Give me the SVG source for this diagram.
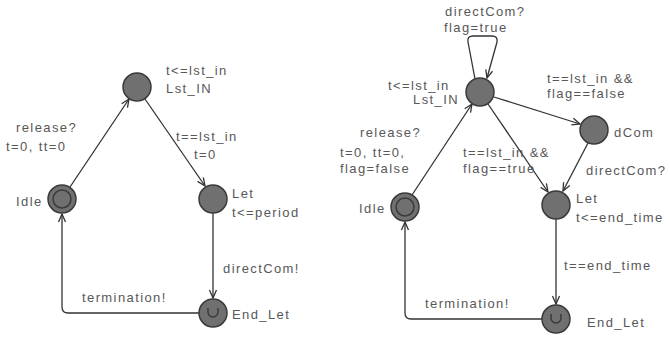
<svg xmlns="http://www.w3.org/2000/svg" width="670" height="337" viewBox="0 0 670 337">
<style>
.n{fill:#707070;stroke:#3a3a3a;stroke-width:1.5}
.in{fill:none;stroke:#3a3a3a;stroke-width:1.5}
.e{fill:none;stroke:#333;stroke-width:1.3}
.t{font-family:"Liberation Sans",Arial,sans-serif;font-size:13px;letter-spacing:1.4px;fill:#585858}
</style>
<defs>
<marker id="a" viewBox="0 0 10 10" refX="9" refY="5" markerWidth="10" markerHeight="10" markerUnits="userSpaceOnUse" orient="auto">
<path d="M1,1.5 L9,5 L1,8.5" fill="none" stroke="#333" stroke-width="1.3"/>
</marker>
</defs>
<rect width="670" height="337" fill="#fff"/>
<g id="connectors">
<path class="e" d="M70,187 L129,99" marker-end="url(#a)"/>
<path class="e" d="M145,99 L205,186" marker-end="url(#a)"/>
<path class="e" d="M213,213 L213,298" marker-end="url(#a)"/>
<path class="e" d="M199,313 L68,313 Q62,313 62,307 L62,214" marker-end="url(#a)"/>
<path class="e" d="M412,195 L472,104" marker-end="url(#a)"/>
<path class="e" d="M475,79 L468,42 Q467,36 473,36 L492,36 Q498,36 497,42 L487,78" marker-end="url(#a)"/>
<path class="e" d="M494,97 L580,124" marker-end="url(#a)"/>
<path class="e" d="M488,104 L548,192" marker-end="url(#a)"/>
<path class="e" d="M588,143 L563,191" marker-end="url(#a)"/>
<path class="e" d="M556,219 L556,304" marker-end="url(#a)"/>
<path class="e" d="M542,319 L411,319 Q405,319 405,313 L405,222" marker-end="url(#a)"/>
</g>
<g id="l-top"><circle class="n" cx="137" cy="87" r="14"/><text class="t" x="166" y="75">t&lt;=lst_in</text><text class="t" x="166" y="93">Lst_IN</text></g>
<g id="l-idle"><circle class="n" cx="62" cy="199" r="14"/><circle class="in" cx="62" cy="199" r="9"/><text class="t" x="16" y="206">Idle</text></g>
<g id="l-let"><circle class="n" cx="213" cy="199" r="14"/><text class="t" x="232" y="198">Let</text><text class="t" x="232" y="217">t&lt;=period</text></g>
<g id="l-endlet"><circle class="n" cx="213" cy="313" r="14"/><path class="in" d="M208,308 v4 a5,5 0 0 0 10,0 v-4"/><text class="t" x="232" y="319">End_Let</text></g>
<g id="l-labels">
<text class="t" x="16" y="132">release?</text><text class="t" x="6" y="151">t=0, tt=0</text>
<text class="t" x="176" y="141">t==lst_in</text><text class="t" x="194" y="159">t=0</text>
<text class="t" x="223" y="273">directCom!</text>
<text class="t" x="82" y="302">termination!</text>
</g>
<g id="r-top"><circle class="n" cx="480" cy="92" r="14"/><text class="t" x="388" y="90">t&lt;=lst_in</text><text class="t" x="413" y="104">Lst_IN</text></g>
<g id="r-dcom"><circle class="n" cx="594" cy="130" r="14"/><text class="t" x="614" y="137">dCom</text></g>
<g id="r-idle"><circle class="n" cx="405" cy="207" r="14"/><circle class="in" cx="405" cy="207" r="9"/><text class="t" x="359" y="213">Idle</text></g>
<g id="r-let"><circle class="n" cx="556" cy="205" r="14"/><text class="t" x="576" y="203">Let</text><text class="t" x="576" y="222">t&lt;=end_time</text></g>
<g id="r-endlet"><circle class="n" cx="556" cy="319" r="14"/><path class="in" d="M551,314 v4 a5,5 0 0 0 10,0 v-4"/><text class="t" x="587" y="327">End_Let</text></g>
<g id="r-labels">
<text class="t" x="445" y="16">directCom?</text><text class="t" x="444" y="32">flag=true</text>
<text class="t" x="547" y="83">t==lst_in &amp;&amp;</text><text class="t" x="547" y="98">flag==false</text>
<text class="t" x="360" y="137">release?</text><text class="t" x="340" y="157">t=0, tt=0,</text><text class="t" x="340" y="173">flag=false</text>
<text class="t" x="463" y="157">t==lst_in &amp;&amp;</text><text class="t" x="463" y="173">flag==true</text>
<text class="t" x="586" y="175">directCom?</text>
<text class="t" x="564" y="270">t==end_time</text>
<text class="t" x="425" y="308">termination!</text>
</g>
</svg>
